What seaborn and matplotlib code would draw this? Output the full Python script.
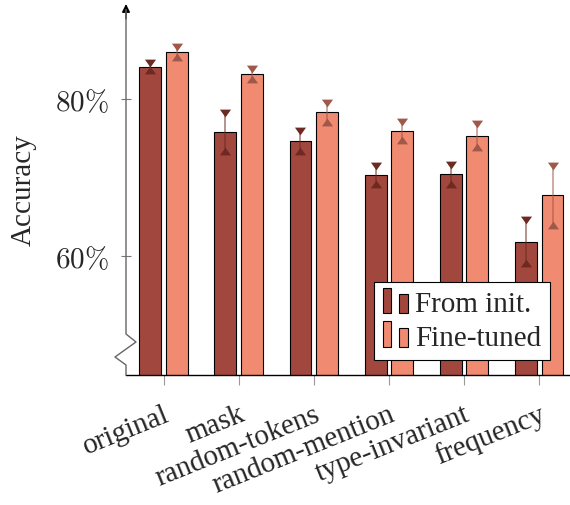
import numpy as np
import pandas as pd
import matplotlib
matplotlib.use("Agg")
import matplotlib.pyplot as plt
import seaborn as sns
from matplotlib.patches import Rectangle
from matplotlib.legend_handler import HandlerBase
from matplotlib.path import Path

categories = ["original", "mask", "random-tokens", "random-mention", "type-invariant", "frequency"]
series_names = ["From init.", "Fine-tuned"]
from_init = [84.1, 75.8, 74.6, 70.3, 70.4, 61.8]
from_init_err = [0.45, 2.4, 1.25, 1.2, 1.2, 2.7]
fine_tuned = [86.0, 83.2, 78.3, 75.9, 75.3, 67.7]
fine_tuned_err = [0.6, 0.65, 1.2, 1.2, 1.45, 3.75]
ytick_values = [60, 80]
ytick_labels = [r"$60\%$", r"$80\%$"]

bar_colors = ["#A2473D", "#F08A70"]
err_colors = ["#6E2A22", "#A0584A"]

sns.set_style("white")
plt.rcParams["font.family"] = "serif"
plt.rcParams["font.serif"] = ["Liberation Serif"]
plt.rcParams["mathtext.fontset"] = "cm"
FONT = "Liberation Serif"
FS = 21

df = pd.DataFrame({
    "category": categories * 2,
    "accuracy": from_init + fine_tuned,
    "err": from_init_err + fine_tuned_err,
    "model": [series_names[0]] * len(categories) + [series_names[1]] * len(categories),
})

fig = plt.figure(figsize=(5.70, 5.06), dpi=100)
ax = fig.add_axes([126 / 570, 130 / 506, 444 / 570, 371 / 506])

sns.barplot(data=df, x="category", y="accuracy", hue="model", hue_order=series_names,
            order=categories, palette=bar_colors, saturation=1, width=0.71, gap=0.18,
            edgecolor="black", linewidth=0.8, errorbar=None, legend=False, ax=ax)

ax.set_ylim(44.8, 92.1)
ax.set_xlim(-0.50, 5.41)

# error bars with triangle marks
down_tri = Path([(-1, 0.7), (1, 0.7), (0, -0.7), (-1, 0.7)], [1, 2, 2, 79])
up_tri = Path([(-1, -0.7), (1, -0.7), (0, 0.7), (-1, -0.7)], [1, 2, 2, 79])
for cont, name, ec in zip(ax.containers, series_names, err_colors):
    sub = df[df["model"] == name].set_index("category").loc[categories]
    xs = np.array([p.get_x() + p.get_width() / 2 for p in cont.patches])
    vals = sub["accuracy"].to_numpy()
    errs = sub["err"].to_numpy()
    ax.vlines(xs, vals - errs, vals + errs, color=ec, alpha=0.6, lw=1.2, zorder=4)
    ax.plot(xs, vals + errs, ls="none", marker=down_tri, ms=8, color=ec, mec="none", zorder=5)
    ax.plot(xs, vals - errs, ls="none", marker=up_tri, ms=8, color=ec, mec="none", zorder=5)

# axes styling
for s in ["left", "top", "right"]:
    ax.spines[s].set_visible(False)
ax.spines["bottom"].set_color("black")
ax.spines["bottom"].set_linewidth(1.0)

ax.set_yticks(ytick_values)
ax.set_yticklabels(ytick_labels, fontsize=FS)
ax.tick_params(axis="y", direction="inout", length=7, width=0.8, color="#777777", pad=9, left=True)
ax.tick_params(axis="x", direction="out", length=7.5, width=0.8, color="#999999", pad=11, bottom=True)
ax.set_xticks(range(len(categories)))
ax.set_xticklabels(categories, fontsize=FS, family=FONT, rotation=22, ha="right", va="top",
                   rotation_mode="anchor")
ax.set_xlabel("")
ax.set_ylabel("Accuracy", fontsize=FS, family=FONT)
ax.yaxis.set_label_coords(-0.2, 0.5)

# broken left axis with zigzag
zx = [0, 0, 0.0225, -0.0248, 0, 0]
zy = [0.985, 0.1105, 0.089, 0.0485, 0.027, 0]
ax.plot(zx, zy, transform=ax.transAxes, color="#666666", lw=1.0, clip_on=False, zorder=6)
ax.annotate("", xy=(0, 1.0), xytext=(0, 0.96), xycoords="axes fraction",
            arrowprops=dict(arrowstyle="-|>", color="black", lw=1.0, mutation_scale=12,
                            shrinkA=0, shrinkB=0), annotation_clip=False)

# legend with pgfplots-style double-bar images
class TwoBars(HandlerBase):
    def create_artists(self, legend, orig_handle, xdescent, ydescent, width, height, fontsize, trans):
        fc = orig_handle.get_facecolor()
        w = width * 0.34
        r1 = Rectangle((-xdescent, -ydescent - 0.1 * height), w, height * 1.25,
                       facecolor=fc, edgecolor="black", lw=0.8, transform=trans)
        r2 = Rectangle((-xdescent + width - w, -ydescent - 0.1 * height), w, height * 0.95,
                       facecolor=fc, edgecolor="black", lw=0.8, transform=trans)
        return [r1, r2]

handles = [Rectangle((0, 0), 1, 1, facecolor=c) for c in bar_colors]
leg = fig.legend(handles, series_names, loc="upper left",
                 bbox_to_anchor=(374 / 570, 1 - 283 / 506), bbox_transform=fig.transFigure,
                 handler_map={Rectangle: TwoBars()}, prop={"family": FONT, "size": FS},
                 frameon=True, fancybox=False, framealpha=1, edgecolor="black", borderaxespad=0,
                 handlelength=0.85, handleheight=0.7, handletextpad=0.25,
                 labelspacing=0.25, borderpad=0.3)
leg.get_frame().set_linewidth(0.8)

fig.savefig("out.png", dpi=100)
